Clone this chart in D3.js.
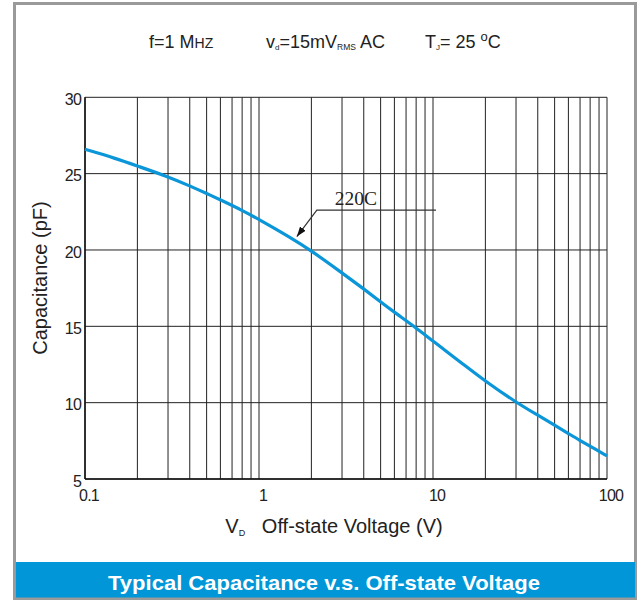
<!DOCTYPE html>
<html><head><meta charset="utf-8">
<script src="https://cdn.jsdelivr.net/npm/d3@7"></script>
<style>
html,body{margin:0;padding:0;background:#fff;}
svg{display:block;font-family:"Liberation Sans",Arial,sans-serif;}
</style></head>
<body>
<svg id="c" width="639" height="600"></svg>
<script>
// ---- data ----
const voltage = [0.1, 0.15, 0.2, 0.3, 0.4, 0.5, 0.6, 0.8, 1, 1.5, 2, 3, 4, 5, 6, 8, 10, 15, 20, 30, 40, 50, 60, 70, 80, 100];
const capacitance = [26.6, 26.0, 25.5, 24.8, 24.2, 23.7, 23.28, 22.6, 22.0, 20.85, 19.95, 18.5, 17.45, 16.6, 15.92, 14.9, 14.03, 12.5, 11.4, 10.02, 9.18, 8.52, 7.98, 7.52, 7.15, 6.51];
const yTicks = [5, 10, 15, 20, 25, 30];
const xTickLabels = [0.1, 1, 10, 100];
const seriesLabel = "220C";
const annotationAt = [1.65, 20.75];
const title = "Typical Capacitance v.s. Off-state Voltage";

const svg = d3.select("#c");
const x = d3.scaleLog().domain([0.1, 100]).range([85, 607]);
const y = d3.scaleLinear().domain([5, 30]).range([479, 97.3]);

// frame
svg.append("rect").attr("x", 14.5).attr("y", 3.5).attr("width", 621).attr("height", 595)
  .attr("fill", "#fff").attr("stroke", "#9a9a9a").attr("stroke-width", 3);
svg.append("rect").attr("x", 16).attr("y", 562).attr("width", 619).attr("height", 35.5).attr("fill", "#0096d8");
svg.append("text").attr("x", 324).attr("y", 590).attr("text-anchor", "middle")
  .attr("fill", "#fff").attr("font-weight", "bold").attr("font-size", 21)
  .attr("textLength", 432).attr("lengthAdjust", "spacingAndGlyphs")
  .style("font-family", "'Liberation Sans Narrow','Liberation Sans',Arial,sans-serif")
  .text(title);

// grid
const minor = [];
for (let d = 0.1; d < 100; d *= 10) for (let k = 1; k <= 10; k++) minor.push(+(d * k).toPrecision(3));
const g = svg.append("g");
g.selectAll("line.v").data(Array.from(new Set(minor))).join("line")
  .attr("x1", d => x(d)).attr("x2", d => x(d)).attr("y1", y(30)).attr("y2", y(5))
  .attr("stroke", "#222").attr("stroke-width", 1);
g.selectAll("line.h").data(yTicks).join("line")
  .attr("x1", x(0.1)).attr("x2", x(100)).attr("y1", d => y(d)).attr("y2", d => y(d))
  .attr("stroke", "#222").attr("stroke-width", 1);
g.append("line").attr("x1", x(0.1)).attr("x2", x(0.1)).attr("y1", y(30)).attr("y2", y(5)).attr("stroke", "#111").attr("stroke-width", 1.5);
g.append("line").attr("x1", x(0.1)).attr("x2", x(100)).attr("y1", y(5)).attr("y2", y(5)).attr("stroke", "#111").attr("stroke-width", 1.5);

// tick labels
svg.append("g").selectAll("text").data(yTicks).join("text")
  .attr("x", 81).attr("y", d => y(d) + 2).attr("dy", "0.35em").attr("text-anchor", "end")
  .attr("font-size", 16).attr("letter-spacing", -0.8).attr("fill", "#222").text(d => d);
svg.append("g").selectAll("text").data(xTickLabels).join("text")
  .attr("x", d => x(d) + 4).attr("y", 501).attr("text-anchor", "middle")
  .attr("font-size", 16).attr("letter-spacing", -0.8).attr("fill", "#222").text(d => d);

// curve
const pts = voltage.map((v, i) => [v, capacitance[i]]);
svg.append("path").datum(pts)
  .attr("d", d3.line().x(d => x(d[0])).y(d => y(d[1])).curve(d3.curveBasis))
  .attr("fill", "none").attr("stroke", "#0a96d8").attr("stroke-width", 3.2);

// annotation
const tx = x(annotationAt[0]), ty = y(annotationAt[1]);
const kx = tx + 20, ky = ty - 28.5;
svg.append("defs").append("marker").attr("id", "ah").attr("viewBox", "0 0 10 10")
  .attr("refX", 10).attr("refY", 5).attr("markerWidth", 10).attr("markerHeight", 10)
  .attr("markerUnits", "userSpaceOnUse").attr("orient", "auto")
  .append("path").attr("d", "M0,1.5 L10,5 L0,8.5 Z").attr("fill", "#111");
svg.append("polyline")
  .attr("points", `${x(100) - 171},${ky} ${kx},${ky} ${tx},${ty - 2}`)
  .attr("fill", "none").attr("stroke", "#333").attr("stroke-width", 1.2).attr("marker-end", "url(#ah)");
svg.append("text").attr("x", kx + 18).attr("y", ky - 5)
  .attr("font-family", "'Liberation Serif','Times New Roman',serif").attr("font-size", 19.5).attr("fill", "#222")
  .text(seriesLabel);

// header
const h = svg.append("g").attr("fill", "#222").attr("font-size", 18);
const t1 = h.append("text").attr("x", 149).attr("y", 48);
t1.append("tspan").text("f=1 M");
t1.append("tspan").attr("font-size", 14).text("HZ");
const t2 = h.append("text").attr("x", 266).attr("y", 48);
t2.append("tspan").text("v");
t2.append("tspan").attr("font-size", 8).attr("dy", 2).text("d");
t2.append("tspan").attr("dy", -2).text("=15mV");
t2.append("tspan").attr("font-size", 8.5).attr("dy", 2).text("RMS");
t2.append("tspan").attr("dy", -2).text(" AC");
const t3 = h.append("text").attr("x", 425).attr("y", 48);
t3.append("tspan").text("T");
t3.append("tspan").attr("font-size", 8).attr("dy", 2).text("J");
t3.append("tspan").attr("dy", -2).text("= 25 ");
t3.append("tspan").attr("font-size", 13).attr("dy", -7).text("o");
t3.append("tspan").attr("dy", 7).text("C");

// axis titles
const xl = svg.append("text").attr("x", 334).attr("y", 533).attr("text-anchor", "middle")
  .attr("font-size", 20).attr("fill", "#222").attr("xml:space", "preserve");
xl.append("tspan").text("V");
xl.append("tspan").attr("font-size", 9).attr("dy", 3).text("D");
xl.append("tspan").attr("dy", -3).text("   Off-state Voltage (V)");
svg.append("text").attr("transform", "translate(47,278) rotate(-90)").attr("text-anchor", "middle")
  .attr("font-size", 20).attr("fill", "#222").text("Capacitance (pF)");
</script>
</body></html>
